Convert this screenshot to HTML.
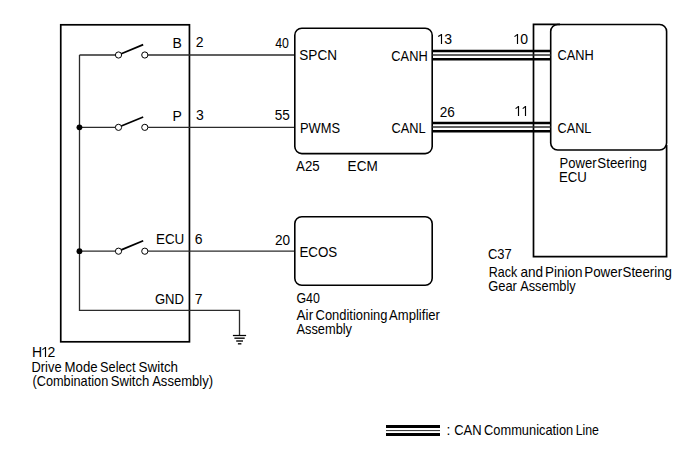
<!DOCTYPE html>
<html><head><meta charset="utf-8"><style>
html,body{margin:0;padding:0;background:#fff;width:688px;height:463px;overflow:hidden}
svg{display:block}
text{font-family:"Liberation Sans",sans-serif;font-size:14px;fill:#000}
</style></head><body>
<svg width="688" height="463" viewBox="0 0 688 463">
<rect width="688" height="463" fill="#fff"/>
<rect x="60.75" y="24.8" width="128.7" height="317.0" rx="0" fill="none" stroke="#000" stroke-width="1.7"/>
<path d="M79.5 55 V310.35 H239.5 V335.5" fill="none" stroke="#2b2b2b" stroke-width="1.3"/>
<line x1="79.5" y1="55.0" x2="115.4" y2="55.0" stroke="#2b2b2b" stroke-width="1.3"/>
<circle cx="118.5" cy="55.0" r="3.1" fill="#fff" stroke="#000" stroke-width="1.0"/>
<circle cx="144.8" cy="55.0" r="3.1" fill="#fff" stroke="#000" stroke-width="1.0"/>
<line x1="121.3" y1="53.7" x2="143.2" y2="44.6" stroke="#000" stroke-width="1.7"/>
<line x1="79.5" y1="127.35" x2="115.4" y2="127.35" stroke="#2b2b2b" stroke-width="1.3"/>
<circle cx="118.5" cy="127.35" r="3.1" fill="#fff" stroke="#000" stroke-width="1.0"/>
<circle cx="144.8" cy="127.35" r="3.1" fill="#fff" stroke="#000" stroke-width="1.0"/>
<line x1="121.3" y1="126.05" x2="143.2" y2="116.95" stroke="#000" stroke-width="1.7"/>
<line x1="79.5" y1="251.2" x2="115.4" y2="251.2" stroke="#2b2b2b" stroke-width="1.3"/>
<circle cx="118.5" cy="251.2" r="3.1" fill="#fff" stroke="#000" stroke-width="1.0"/>
<circle cx="144.8" cy="251.2" r="3.1" fill="#fff" stroke="#000" stroke-width="1.0"/>
<line x1="121.3" y1="249.9" x2="143.2" y2="240.8" stroke="#000" stroke-width="1.7"/>
<circle cx="79.45" cy="127.35" r="2.9" fill="#000"/>
<circle cx="79.45" cy="251.2" r="2.9" fill="#000"/>
<line x1="147.9" y1="55.0" x2="294.8" y2="55.0" stroke="#2b2b2b" stroke-width="1.3"/>
<line x1="147.9" y1="127.35" x2="294.8" y2="127.35" stroke="#2b2b2b" stroke-width="1.3"/>
<line x1="147.9" y1="251.2" x2="294.8" y2="251.2" stroke="#2b2b2b" stroke-width="1.3"/>
<line x1="232.9" y1="335.5" x2="246.1" y2="335.5" stroke="#000" stroke-width="1.25"/>
<line x1="234.4" y1="338.2" x2="244.7" y2="338.2" stroke="#1a1a1a" stroke-width="1.5"/>
<line x1="236.2" y1="341.0" x2="243.0" y2="341.0" stroke="#1a1a1a" stroke-width="1.5"/>
<line x1="237.9" y1="343.8" x2="241.4" y2="343.8" stroke="#1a1a1a" stroke-width="1.5"/>
<rect x="294.8" y="28.25" width="137.4" height="125.35" rx="7" fill="none" stroke="#000" stroke-width="1.6"/>
<rect x="294.8" y="216.7" width="137.4" height="68.55" rx="7" fill="none" stroke="#000" stroke-width="1.6"/>
<path d="M560 24.4 H533.5 V256.6 H666.6 V145" fill="none" stroke="#000" stroke-width="1.7"/>
<rect x="550.7" y="24.5" width="115.9" height="125.5" rx="7" fill="none" stroke="#000" stroke-width="1.6"/>
<line x1="432.2" y1="51.0" x2="550.7" y2="51.0" stroke="#000" stroke-width="2.3"/>
<line x1="432.2" y1="59.2" x2="550.7" y2="59.2" stroke="#000" stroke-width="2.4"/>
<line x1="432.2" y1="55.0" x2="550.7" y2="55.0" stroke="#2b2b2b" stroke-width="1.3"/>
<line x1="432.2" y1="123.0" x2="550.7" y2="123.0" stroke="#000" stroke-width="2.3"/>
<line x1="432.2" y1="131.2" x2="550.7" y2="131.2" stroke="#000" stroke-width="2.4"/>
<line x1="432.2" y1="127.0" x2="550.7" y2="127.0" stroke="#2b2b2b" stroke-width="1.3"/>
<line x1="386" y1="426.5" x2="440" y2="426.5" stroke="#000" stroke-width="2.8"/>
<line x1="386" y1="430.6" x2="440" y2="430.6" stroke="#2a2a2a" stroke-width="1.0"/>
<line x1="386" y1="434.5" x2="440" y2="434.5" stroke="#000" stroke-width="2.8"/>
<path d="M441.5 34 V44" stroke="#000" stroke-width="1.15" fill="none"/>
<path d="M441.6 34.4 L438.2 36.6" stroke="#000" stroke-width="1.15" fill="none"/>
<path d="M517.5 34 V44" stroke="#000" stroke-width="1.15" fill="none"/>
<path d="M517.6 34.4 L514.5 36.6" stroke="#000" stroke-width="1.15" fill="none"/>
<path d="M518.5 106 V116" stroke="#000" stroke-width="1.15" fill="none"/>
<path d="M518.6 106.4 L515.6 108.6" stroke="#000" stroke-width="1.15" fill="none"/>
<path d="M525.5 106 V116" stroke="#000" stroke-width="1.15" fill="none"/>
<path d="M525.6 106.4 L522.7 108.6" stroke="#000" stroke-width="1.15" fill="none"/>
<path d="M45.5 347 V357" stroke="#000" stroke-width="1.15" fill="none"/>
<path d="M45.6 347.4 L42.4 349.6" stroke="#000" stroke-width="1.15" fill="none"/>
<text x="172.62" y="48.00">B</text>
<text x="195.65" y="47.00">2</text>
<text x="172.62" y="121.00">P</text>
<text x="196.03" y="120.00">3</text>
<text transform="translate(155.91,244.00) scale(0.9619,1)">ECU</text>
<text x="194.74" y="244.00">6</text>
<text transform="translate(154.93,304.00) scale(0.9346,1)">GND</text>
<text x="194.65" y="304.00">7</text>
<text transform="translate(275.13,48.00) scale(0.8819,1)">40</text>
<text transform="translate(274.81,120.00) scale(0.9700,1)">55</text>
<text transform="translate(274.89,245.00) scale(0.9700,1)">20</text>
<text transform="translate(299.30,60.00) scale(0.9700,1)">SPCN</text>
<text transform="translate(299.98,133.00) scale(0.9207,1)">PWMS</text>
<text transform="translate(299.38,257.00) scale(0.9558,1)">ECOS</text>
<text transform="translate(391.35,61.00) scale(0.9182,1)">CANH</text>
<text transform="translate(391.42,133.00) scale(0.9161,1)">CANL</text>
<text x="444.30" y="44.00">3</text>
<text transform="translate(439.69,117.00) scale(0.9700,1)">26</text>
<text x="520.26" y="44.00">0</text>
<text transform="translate(557.60,60.00) scale(0.9141,1)">CANH</text>
<text transform="translate(557.57,133.00) scale(0.9072,1)">CANL</text>
<text transform="translate(296.11,171.00) scale(0.9499,1)">A25</text>
<text transform="translate(347.61,171.00) scale(0.9700,1)">ECM</text>
<text transform="translate(559.49,168.00) scale(0.9339,1)">Power</text>
<text transform="translate(597.35,168.00) scale(0.9490,1)">Steering</text>
<text transform="translate(558.91,182.00) scale(0.9440,1)">ECU</text>
<text transform="translate(487.94,259.00) scale(0.9267,1)">C37</text>
<text transform="translate(488.81,277.00) scale(0.8918,1)">Rack</text>
<text transform="translate(520.48,277.00) scale(0.9700,1)">and</text>
<text transform="translate(544.88,277.00) scale(0.9640,1)">Pinion</text>
<text transform="translate(584.20,277.00) scale(0.9583,1)">Power</text>
<text transform="translate(622.58,277.00) scale(0.9474,1)">Steering</text>
<text transform="translate(488.17,291.00) scale(0.9250,1)">Gear</text>
<text transform="translate(520.19,291.00) scale(0.9144,1)">Assembly</text>
<text transform="translate(296.43,303.00) scale(0.8871,1)">G40</text>
<text transform="translate(296.56,320.00) scale(0.9700,1)">Air</text>
<text transform="translate(315.58,320.00) scale(0.9250,1)">Conditioning</text>
<text transform="translate(389.11,320.00) scale(0.9337,1)">Amplifier</text>
<text transform="translate(296.52,334.00) scale(0.9149,1)">Assembly</text>
<text x="31.89" y="357.00">H</text>
<text x="47.51" y="357.00">2</text>
<text transform="translate(31.50,372.00) scale(0.9213,1)">Drive</text>
<text transform="translate(64.59,372.00) scale(0.9453,1)">Mode</text>
<text transform="translate(100.08,372.00) scale(0.9099,1)">Select</text>
<text transform="translate(138.58,372.00) scale(0.9584,1)">Switch</text>
<text transform="translate(32.47,386.00) scale(0.9107,1)">(Combination</text>
<text transform="translate(110.76,386.00) scale(0.9363,1)">Switch</text>
<text transform="translate(152.18,386.00) scale(0.9319,1)">Assembly)</text>
<text x="446.50" y="435.00">:</text>
<text transform="translate(454.17,435.00) scale(0.9301,1)">CAN</text>
<text transform="translate(484.07,435.00) scale(0.9175,1)">Communication</text>
<text transform="translate(575.68,435.00) scale(0.8800,1)">Line</text>
</svg></body></html>
